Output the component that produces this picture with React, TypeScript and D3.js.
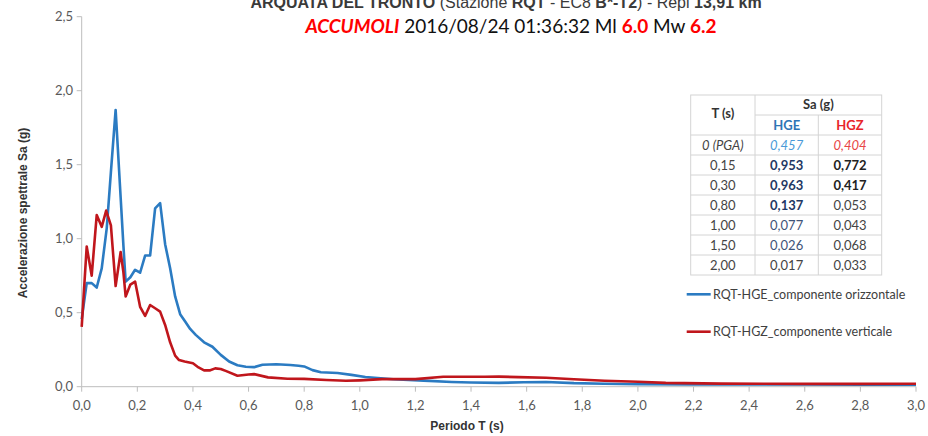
import React from "react";
import * as d3 from "d3";

// ---- data ----
const periodsHGE = [0, 0.018, 0.036, 0.054, 0.072, 0.09, 0.105, 0.122, 0.14, 0.15, 0.158, 0.175, 0.192, 0.21, 0.228, 0.246, 0.264, 0.282, 0.3, 0.318, 0.336, 0.354, 0.372, 0.39, 0.41, 0.44, 0.47, 0.5, 0.53, 0.56, 0.59, 0.62, 0.65, 0.7, 0.75, 0.78, 0.8, 0.83, 0.86, 0.92, 0.97, 1.02, 1.12, 1.23, 1.33, 1.4, 1.5, 1.59, 1.67, 1.77, 1.88, 2.0, 2.2, 2.4, 2.6, 2.8, 3.0];
const saHGE = [0.457, 0.7, 0.7, 0.67, 0.8, 1.07, 1.45, 1.87, 1.28, 0.953, 0.71, 0.74, 0.79, 0.77, 0.886, 0.886, 1.205, 1.24, 0.963, 0.8, 0.61, 0.49, 0.44, 0.39, 0.35, 0.3, 0.27, 0.215, 0.17, 0.145, 0.135, 0.132, 0.148, 0.152, 0.147, 0.142, 0.137, 0.112, 0.098, 0.093, 0.08, 0.066, 0.05, 0.041, 0.032, 0.028, 0.026, 0.03, 0.032, 0.024, 0.02, 0.017, 0.016, 0.016, 0.015, 0.014, 0.013];

const periodsHGZ = [0, 0.018, 0.036, 0.054, 0.072, 0.088, 0.105, 0.122, 0.14, 0.15, 0.158, 0.175, 0.192, 0.21, 0.228, 0.246, 0.264, 0.282, 0.3, 0.318, 0.336, 0.35, 0.37, 0.4, 0.42, 0.44, 0.46, 0.48, 0.5, 0.52, 0.56, 0.6, 0.62, 0.67, 0.74, 0.8, 0.88, 0.95, 1.0, 1.08, 1.2, 1.3, 1.45, 1.5, 1.57, 1.67, 1.77, 1.88, 2.0, 2.1, 2.3, 2.6, 2.8, 3.0];
const saHGZ = [0.404, 0.947, 0.75, 1.16, 1.08, 1.19, 1.09, 0.68, 0.91, 0.772, 0.61, 0.69, 0.71, 0.54, 0.478, 0.552, 0.53, 0.507, 0.417, 0.3, 0.21, 0.18, 0.17, 0.158, 0.13, 0.11, 0.11, 0.124, 0.12, 0.105, 0.074, 0.082, 0.085, 0.063, 0.054, 0.053, 0.045, 0.04, 0.043, 0.051, 0.051, 0.067, 0.067, 0.068, 0.065, 0.06, 0.05, 0.04, 0.033, 0.026, 0.021, 0.019, 0.019, 0.02];

const xTickValues = [0, 0.2, 0.4, 0.6, 0.8, 1.0, 1.2, 1.4, 1.6, 1.8, 2.0, 2.2, 2.4, 2.6, 2.8, 3.0];
const yTickValues = [0, 0.5, 1.0, 1.5, 2.0, 2.5];

const tablePeriods = ["0 (PGA)", "0,15", "0,30", "0,80", "1,00", "1,50", "2,00"];
const tableHGE = ["0,457", "0,953", "0,963", "0,137", "0,077", "0,026", "0,017"];
const tableHGZ = ["0,404", "0,772", "0,417", "0,053", "0,043", "0,068", "0,033"];

const legendLabels = ["RQT-HGE_componente orizzontale", "RQT-HGZ_componente verticale"];

// ---- styles ----
const BLUE = "#2b7bc2";
const RED = "#c0161c";
const AXIS = "#bdbdbd";
const SANS = "'Liberation Sans', Arial, sans-serif";
const CAL = "Lato, 'Open Sans', sans-serif";

const hgeStyle = [
  { c: "#4a9ad8", w: 400, i: true },
  { c: "#1f3864", w: 700, i: false },
  { c: "#1f3864", w: 700, i: false },
  { c: "#1f3864", w: 700, i: false },
  { c: "#3f5478", w: 400, i: false },
  { c: "#3f5478", w: 400, i: false },
  { c: "#444", w: 400, i: false },
];
const hgzStyle = [
  { c: "#e84545", w: 400, i: true },
  { c: "#222", w: 700, i: false },
  { c: "#222", w: 700, i: false },
  { c: "#444", w: 400, i: false },
  { c: "#444", w: 400, i: false },
  { c: "#444", w: 400, i: false },
  { c: "#444", w: 400, i: false },
];

export default function App() {
  const W = 928, H = 436;
  const x = d3.scaleLinear().domain([0, 3]).range([81.7, 916]);
  const y = d3.scaleLinear().domain([0, 2.5]).range([386.7, 16.7]);
  const fmt = (v: number) => d3.format(".1f")(v).replace(".", ",");

  const line = d3.line<[number, number]>().x(d => x(d[0])).y(d => y(d[1]));
  const hge = line(periodsHGE.map((t, i) => [t, saHGE[i]] as [number, number])) || "";
  const hgz = line(periodsHGZ.map((t, i) => [t, saHGZ[i]] as [number, number])) || "";

  // table geometry
  const tL = 690.7, c1 = 755, c2 = 818.3, tR = 881.7;
  const tTop = 95, hMid = 115, hBot = 135, rowH = 20;
  const rows = tablePeriods.length;
  const tBot = hBot + rows * rowH;
  const border = "#d4d4d4";
  const colC = [(tL + c1) / 2, (c1 + c2) / 2, (c2 + tR) / 2];

  const legendY = [294.3, 331.7];
  const legendColors = [BLUE, RED];

  return (
    <svg width={W} height={H} style={{ position: "absolute", left: 0, top: 0, background: "#fff" }}>
      {/* titles */}
      <text x={506} y={7.5} textAnchor="middle" fontFamily={SANS} fontSize={16} fill="#3a3a3a">
        <tspan fontWeight={700}>ARQUATA DEL TRONTO</tspan>
        <tspan> (Stazione </tspan>
        <tspan fontWeight={700}>RQT</tspan>
        <tspan> - EC8 </tspan>
        <tspan fontWeight={700}>B*-T2</tspan>
        <tspan>) - Repi </tspan>
        <tspan fontWeight={700}>13,91 km</tspan>
      </text>
      <text x={511} y={33} textAnchor="middle" fontFamily={CAL} fontSize={19} fill="#111">
        <tspan fill="#ff0000" fontWeight={700} fontStyle="italic">ACCUMOLI</tspan>
        <tspan> 2016/08/24 01:36:32 Ml </tspan>
        <tspan fill="#ff0000" fontWeight={700}>6.0</tspan>
        <tspan> Mw </tspan>
        <tspan fill="#ff0000" fontWeight={700}>6.2</tspan>
      </text>

      {/* axes */}
      <line x1={x(0)} x2={x(3)} y1={y(0)} y2={y(0)} stroke={AXIS} strokeWidth={1} />
      <line x1={x(0)} x2={x(0)} y1={y(0)} y2={y(2.5)} stroke={AXIS} strokeWidth={1} />
      {yTickValues.map(v => (
        <g key={"y" + v}>
          <line x1={x(0) - 5} x2={x(0)} y1={y(v)} y2={y(v)} stroke={AXIS} />
          <text x={73} y={y(v) + 4.5} textAnchor="end" fontFamily={CAL} fontSize={13} fill="#595959">{fmt(v)}</text>
        </g>
      ))}
      {xTickValues.map(v => (
        <g key={"x" + v}>
          <line x1={x(v)} x2={x(v)} y1={y(0)} y2={y(0) + 5} stroke={AXIS} />
          <text x={x(v)} y={410} textAnchor="middle" fontFamily={CAL} fontSize={13} fill="#595959">{fmt(v)}</text>
        </g>
      ))}
      <text transform="translate(27,213) rotate(-90)" textAnchor="middle" fontFamily={SANS} fontWeight={700} fontSize={12} fill="#333">
        Accelerazione spettrale Sa (g)
      </text>
      <text x={467} y={430} textAnchor="middle" fontFamily={SANS} fontWeight={700} fontSize={12} fill="#333">
        Periodo T (s)
      </text>

      {/* series */}
      <path d={hge} fill="none" stroke={BLUE} strokeWidth={2.6} strokeLinejoin="round" />
      <path d={hgz} fill="none" stroke={RED} strokeWidth={2.6} strokeLinejoin="round" />

      {/* table */}
      <g fontFamily={CAL} fontSize={13}>
        <rect x={tL} y={tTop} width={tR - tL} height={tBot - tTop} fill="#fff" stroke={border} />
        <line x1={c1} x2={c1} y1={tTop} y2={tBot} stroke={border} />
        <line x1={c2} x2={c2} y1={hMid} y2={tBot} stroke={border} />
        <line x1={c1} x2={tR} y1={hMid} y2={hMid} stroke={border} />
        {d3.range(rows).map(i => (
          <line key={"r" + i} x1={tL} x2={tR} y1={hBot + i * rowH} y2={hBot + i * rowH} stroke={border} />
        ))}
        <text x={colC[0]} y={118} textAnchor="middle" fontWeight={700} fill="#333">T (s)</text>
        <text x={(c1 + tR) / 2} y={109} textAnchor="middle" fontWeight={700} fill="#333">Sa (g)</text>
        <text x={colC[1]} y={130} textAnchor="middle" fontWeight={700} fill="#2e75b6">HGE</text>
        <text x={colC[2]} y={130} textAnchor="middle" fontWeight={700} fill="#e8262a">HGZ</text>
        {tablePeriods.map((p, i) => (
          <g key={"t" + i}>
            <text x={colC[0]} y={hBot + i * rowH + 14.5} textAnchor="middle" fill="#444" fontStyle={i === 0 ? "italic" : "normal"}>{p}</text>
            <text x={colC[1]} y={hBot + i * rowH + 14.5} textAnchor="middle" fill={hgeStyle[i].c} fontWeight={hgeStyle[i].w} fontStyle={hgeStyle[i].i ? "italic" : "normal"}>{tableHGE[i]}</text>
            <text x={colC[2]} y={hBot + i * rowH + 14.5} textAnchor="middle" fill={hgzStyle[i].c} fontWeight={hgzStyle[i].w} fontStyle={hgzStyle[i].i ? "italic" : "normal"}>{tableHGZ[i]}</text>
          </g>
        ))}
      </g>

      {/* legend */}
      {legendLabels.map((lab, i) => (
        <g key={"l" + i}>
          <line x1={686.7} x2={710.7} y1={legendY[i]} y2={legendY[i]} stroke={legendColors[i]} strokeWidth={2.6} />
          <text x={713} y={legendY[i] + 4.5} fontFamily={CAL} fontSize={12.5} fill="#404040">{lab}</text>
        </g>
      ))}
    </svg>
  );
}
